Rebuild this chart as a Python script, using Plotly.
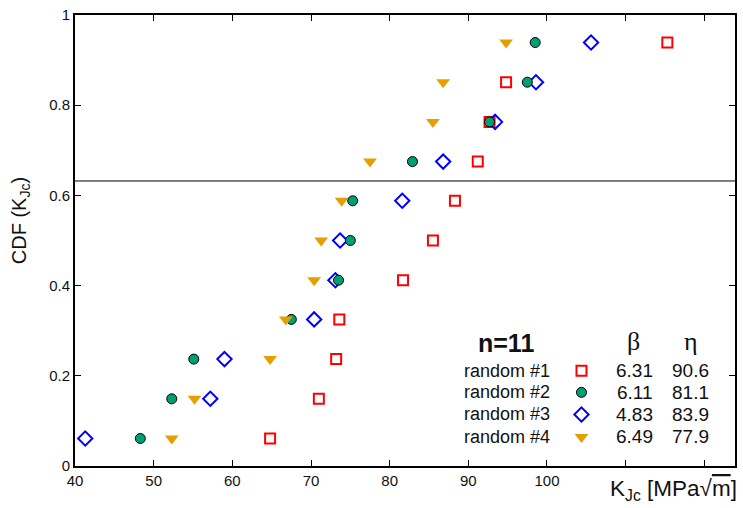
import plotly.graph_objects as go

# ---- data ----
cdf = [0.061, 0.149, 0.237, 0.325, 0.412, 0.500, 0.588, 0.675, 0.763, 0.851, 0.939]
random1 = [64.8, 71.0, 73.2, 73.6, 81.7, 85.5, 88.3, 91.2, 92.7, 94.8, 115.3]
random2 = [48.3, 52.3, 55.1, 67.5, 73.5, 75.0, 75.3, 82.9, 92.7, 97.5, 98.5]
random3 = [41.3, 57.2, 59.0, 70.4, 73.1, 73.7, 81.6, 86.8, 93.4, 98.6, 105.6]
random4 = [52.3, 55.2, 64.8, 66.8, 70.4, 71.3, 73.9, 77.5, 85.5, 86.8, 94.8]
series_names = ["random #1", "random #2", "random #3", "random #4"]
beta = ["6.31", "6.11", "4.83", "6.49"]
eta = ["90.6", "81.1", "83.9", "77.9"]
x_tickvals = [40, 50, 60, 70, 80, 90, 100]
x_ticktext = ["40", "50", "60", "70", "80", "90", "100"]
x_unlabeled_ticks = [110, 120]
y_tickvals = [0, 0.2, 0.4, 0.6, 0.8, 1.0]
y_ticktext = ["0", "0.2", "0.4", "0.6", "0.8", "1"]
cdf_eta_level = 0.632

FONT = "Liberation Sans, Arial, sans-serif"

styles = {
    "random #1": dict(symbol="square-open", size=10, color="#ff0000", line=dict(width=2, color="#ff0000")),
    "random #2": dict(symbol="circle", size=10, color="#009e73", line=dict(width=1, color="#000000")),
    "random #3": dict(symbol="diamond-open", size=11, color="#0000ff", line=dict(width=2, color="#0000ff")),
    "random #4": dict(symbol="triangle-down", size=12, color="#e69f00", line=dict(width=0)),
}
data = {"random #1": random1, "random #2": random2, "random #3": random3, "random #4": random4}

fig = go.Figure()
for name in ["random #1", "random #3", "random #2", "random #4"]:
    fig.add_trace(go.Scatter(x=data[name], y=cdf, mode="markers", name=name,
                             marker=styles[name], showlegend=False))

# legend table (paper-space overlay axes)
row_y = [0.211, 0.1633, 0.1143, 0.0644]
for i, name in enumerate(series_names):
    fig.add_trace(go.Scatter(x=[0.7674], y=[row_y[i]], mode="markers", marker=styles[name],
                             xaxis="x2", yaxis="y2", showlegend=False, hoverinfo="skip"))
    fig.add_annotation(x=0.722, y=row_y[i], xref="paper", yref="paper", text=name,
                       showarrow=False, xanchor="right", yanchor="middle",
                       font=dict(family=FONT, size=18, color="#111"))
    fig.add_annotation(x=0.848, y=row_y[i], xref="paper", yref="paper", text=beta[i],
                       showarrow=False, xanchor="center", yanchor="middle",
                       font=dict(family=FONT, size=19, color="#111"))
    fig.add_annotation(x=0.933, y=row_y[i], xref="paper", yref="paper", text=eta[i],
                       showarrow=False, xanchor="center", yanchor="middle",
                       font=dict(family=FONT, size=19, color="#111"))

fig.add_annotation(x=0.6526, y=0.2725, xref="paper", yref="paper", text="<b>n=11</b>",
                   showarrow=False, xanchor="center", yanchor="middle",
                   font=dict(family=FONT, size=25, color="#111"))
fig.add_annotation(x=0.846, y=0.276, xref="paper", yref="paper", text="β",
                   showarrow=False, xanchor="center", yanchor="middle",
                   font=dict(family="Liberation Serif, Times New Roman, serif", size=26, color="#111"))
fig.add_annotation(x=0.9335, y=0.276, xref="paper", yref="paper", text="η",
                   showarrow=False, xanchor="center", yanchor="middle",
                   font=dict(family="Liberation Serif, Times New Roman, serif", size=26, color="#111"))

# axis titles
fig.add_annotation(x=1.006, y=-0.0527, xref="paper", yref="paper",
                   text="K<sub>Jc</sub> [MPa√<span style='text-decoration:overline'>m</span>]",
                   showarrow=False, xanchor="right", yanchor="middle",
                   font=dict(family=FONT, size=22.5, color="#111"))
fig.add_annotation(x=-0.0831, y=0.543, xref="paper", yref="paper",
                   text="CDF (K<sub>Jc</sub>)", textangle=-90,
                   showarrow=False, xanchor="center", yanchor="middle",
                   font=dict(family=FONT, size=20, color="#111"))

# 63.2% line
fig.add_shape(type="line", xref="paper", yref="y", x0=0, x1=1, y0=cdf_eta_level, y1=cdf_eta_level,
              line=dict(color="black", width=1))

axis_common = dict(showgrid=False, zeroline=False, showline=True, linecolor="black", linewidth=2,
                   mirror="ticks", ticks="inside", ticklen=6, tickwidth=1, tickcolor="black",
                   tickfont=dict(family=FONT, size=15, color="#111"))
fig.update_layout(
    width=743, height=508,
    margin=dict(l=75, r=6, t=11, b=42),
    paper_bgcolor="white", plot_bgcolor="white",
    xaxis=dict(range=[40, 123.9], tickmode="array", tickvals=x_tickvals, ticktext=x_ticktext,
               minor=dict(tickmode="array", tickvals=x_unlabeled_ticks, ticks="inside",
                          ticklen=6, tickwidth=1, tickcolor="black"),
               **axis_common),
    yaxis=dict(range=[0, 1], tickmode="array", tickvals=y_tickvals, ticktext=y_ticktext,
               **axis_common),
    xaxis2=dict(range=[0, 1], overlaying="x", visible=False, domain=[0, 1]),
    yaxis2=dict(range=[0, 1], overlaying="y", visible=False, domain=[0, 1]),
    showlegend=False,
)

fig.write_html("out.html")
